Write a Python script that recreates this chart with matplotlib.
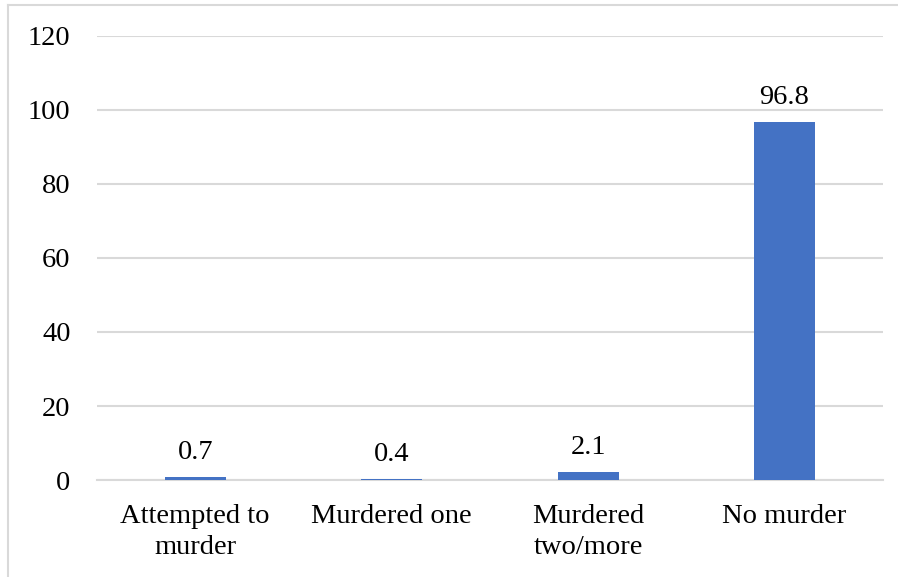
import matplotlib
matplotlib.use("Agg")
from matplotlib import pyplot as plt
from matplotlib.lines import Line2D

categories = ["Attempted to\nmurder", "Murdered one", "Murdered\ntwo/more", "No murder"]
values = [0.7, 0.4, 2.1, 96.8]
yticks = [0, 20, 40, 60, 80, 100, 120]

plt.rcParams['font.family'] = ['Liberation Serif', 'DejaVu Serif']
fs = 20.5

fig = plt.figure(figsize=(8.98, 5.77), dpi=100)
ax = fig.add_axes([0.108, 0.168, 0.875, 0.770])

x = list(range(len(categories)))
bars = ax.bar(x, values, width=0.31, color='#4472C4', zorder=3)
for b, v in zip(bars, values):
    ax.annotate(f"{v}", (b.get_x() + b.get_width() / 2, v), xytext=(0, 13),
                textcoords='offset points', ha='center', va='baseline', fontsize=fs)

ax.set_xlim(-0.5, 3.5)
ax.set_ylim(0, 120)
ax.set_yticks(yticks)
ax.set_xticks(x)
ax.set_xticklabels(categories, fontsize=fs, linespacing=1.35)
ax.tick_params(axis='y', labelsize=fs, length=0, pad=19)
ax.tick_params(axis='x', length=0, pad=17)
ax.yaxis.grid(True, color='#d9d9d9', linewidth=1.5, zorder=0)
for s in ['top', 'right', 'left']:
    ax.spines[s].set_visible(False)
ax.spines['bottom'].set_color('#d9d9d9')
ax.spines['bottom'].set_linewidth(1.5)

# chart frame (left and top edges visible in the crop)
fig.add_artist(Line2D([0.009, 0.009], [0, 0.991], transform=fig.transFigure, color='#d9d9d9', linewidth=1.5))
fig.add_artist(Line2D([0.009, 1.0], [0.991, 0.991], transform=fig.transFigure, color='#d9d9d9', linewidth=1.5))

fig.savefig("out.png", dpi=100)
